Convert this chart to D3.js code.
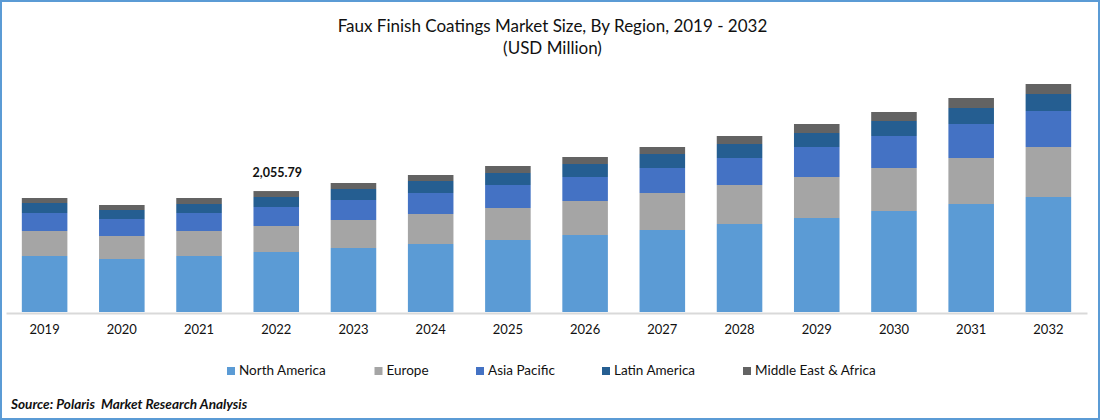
<!DOCTYPE html>
<html lang="en">
<head>
  <meta charset="UTF-8">
  <title>Faux Finish Coatings Market Size</title>
  <script src="https://d3js.org/d3.v7.min.js"></script>
  <style>
    html, body {
      margin: 0;
      padding: 0;
      background: #fff;
    }

    svg {
      display: block;
      font-family: Lato, "Open Sans", sans-serif;
      fill: #000;
    }

    .x-axis path {
      stroke: #d9d9d9;
      stroke-width: 2px;
    }

    .x-axis text {
      font-family: Lato, "Open Sans", sans-serif;
      font-size: 13px;
      fill: #111;
    }
  </style>
</head>
<body>
  <div id="chart"></div>

  <script>
    const years = ["2019", "2020", "2021", "2022", "2023", "2024", "2025", "2026", "2027", "2028", "2029", "2030", "2031", "2032"];
    const regions = ["North America", "Europe", "Asia Pacific", "Latin America", "Middle East & Africa"];
    const colors = ["#5b9bd5", "#a5a5a5", "#4472c4", "#255e91", "#636363"];

    const northAmerica = [952, 901, 952, 1020, 1088, 1156, 1224, 1309, 1394, 1496, 1598, 1717, 1836, 1955];
    const europe = [425, 391, 425, 442, 476, 510, 544, 578, 629, 663, 697, 731, 782, 850];
    const asiaPacific = [306, 289, 306, 323, 340, 357, 391, 408, 425, 459, 510, 544, 578, 612];
    const latinAmerica = [170, 153, 153, 170, 187, 204, 204, 221, 238, 238, 238, 255, 272, 289];
    const middleEast = [85, 85, 102, 101, 102, 102, 119, 119, 119, 136, 153, 153, 170, 170];
    const seriesValues = [northAmerica, europe, asiaPacific, latinAmerica, middleEast];

    const labelYear = "2022";
    const labelText = "2,055.79";

    const width = 1100, height = 420;

    const svg = d3.select("#chart").append("svg")
      .attr("width", width)
      .attr("height", height);

    // outer frame
    svg.append("rect")
      .attr("x", 1)
      .attr("y", 1)
      .attr("width", width - 2)
      .attr("height", height - 2)
      .attr("fill", "#fff")
      .attr("stroke", "#5b9bd5")
      .attr("stroke-width", 2);

    const x = d3.scaleBand()
      .domain(years)
      .range([6, 1087])
      .paddingInner(0.41)
      .paddingOuter(0.205);
    const y = d3.scaleLinear()
      .domain([0, 4284])
      .range([312, 60]);

    const rows = years.map((year, i) => {
      const row = { year };
      regions.forEach((r, k) => { row[r] = seriesValues[k][i]; });
      return row;
    });
    const stacked = d3.stack().keys(regions)(rows);

    svg.selectAll(".series")
      .data(stacked)
      .enter().append("g")
      .attr("class", "series")
      .attr("fill", (d, i) => colors[i])
      .selectAll("rect")
      .data(d => d)
      .enter().append("rect")
      .attr("x", d => x(d.data.year))
      .attr("y", d => y(d[1]))
      .attr("width", x.bandwidth())
      .attr("height", d => y(d[0]) - y(d[1]));

    svg.append("g")
      .attr("class", "x-axis")
      .attr("transform", "translate(0,313)")
      .call(d3.axisBottom(x).tickSize(0).tickSizeOuter(0).tickPadding(12));

    // value label above the 2022 bar
    const topSeries = stacked[stacked.length - 1];
    const labelRow = topSeries.find(d => d.data.year === labelYear);
    svg.append("text")
      .attr("x", x(labelYear) + x.bandwidth() / 2 + 1)
      .attr("y", y(labelRow[1]) - 14)
      .attr("text-anchor", "middle")
      .style("font-size", "12.5px")
      .style("font-weight", "bold")
      .attr("fill", "#111")
      .text(labelText);

    // title
    svg.append("text")
      .attr("x", 552.5)
      .attr("y", 32)
      .attr("text-anchor", "middle")
      .style("font-size", "17px")
      .attr("fill", "#111")
      .text("Faux Finish Coatings Market Size, By Region, 2019 - 2032");
    svg.append("text")
      .attr("x", 552.5)
      .attr("y", 54)
      .attr("text-anchor", "middle")
      .style("font-size", "17px")
      .attr("fill", "#111")
      .text("(USD Million)");

    // legend
    const legendLeft = [227, 374.5, 476, 602, 743];
    const legend = svg.selectAll(".legend-item")
      .data(regions)
      .enter().append("g")
      .attr("class", "legend-item")
      .attr("transform", (d, i) => `translate(${legendLeft[i]},367)`);
    legend.append("rect")
      .attr("width", 8)
      .attr("height", 8)
      .attr("fill", (d, i) => colors[i]);
    legend.append("text")
      .attr("x", 12)
      .attr("y", 8)
      .style("font-size", "13.5px")
      .attr("fill", "#111")
      .text(d => d);

    // source
    svg.append("text")
      .attr("x", 11)
      .attr("y", 409)
      .style("font-size", "13.6px")
      .style("font-weight", "bold")
      .style("font-style", "italic")
      .style("white-space", "pre")
      .attr("fill", "#111")
      .text("Source: Polaris  Market Research Analysis");
  </script>
</body>
</html>
